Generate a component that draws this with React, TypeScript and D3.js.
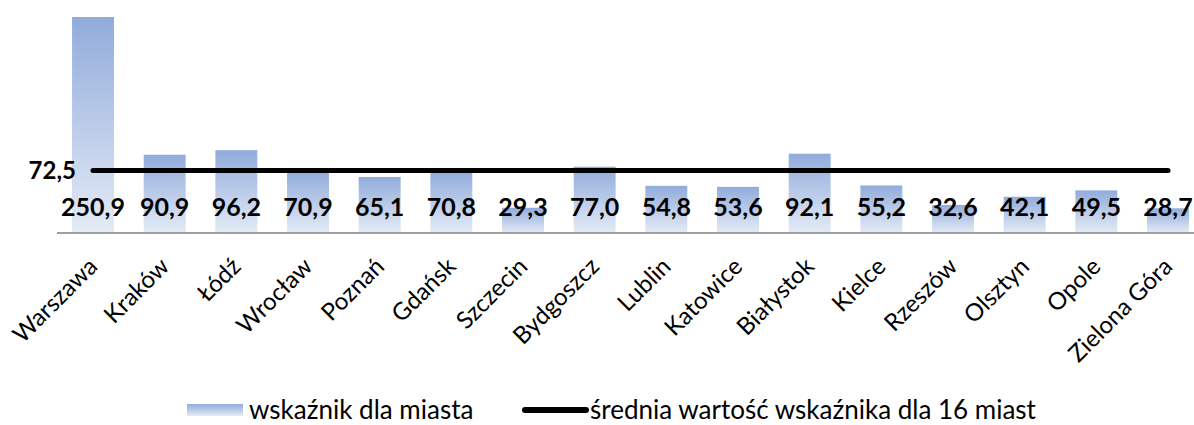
import React from "react";
import * as d3 from "d3";

const cities = ["Warszawa", "Kraków", "Łódź", "Wrocław", "Poznań", "Gdańsk", "Szczecin", "Bydgoszcz", "Lublin", "Katowice", "Białystok", "Kielce", "Rzeszów", "Olsztyn", "Opole", "Zielona Góra"];
const values = [250.9, 90.9, 96.2, 70.9, 65.1, 70.8, 29.3, 77.0, 54.8, 53.6, 92.1, 55.2, 32.6, 42.1, 49.5, 28.7];
const average = 72.5;
const legendLabels = ["wskaźnik dla miasta", "średnia wartość wskaźnika dla 16 miast"];

const W = 1194;
const H = 425;
const fmt = (v: number) => v.toFixed(1).replace(".", ",");

export default function App() {
  const x = d3.scaleBand<string>().domain(cities).range([57, 1204]).paddingInner(0.415).paddingOuter(0.21);
  const y = d3.scaleLinear().domain([0, 250.9]).range([233, 17]);
  const bw = x.bandwidth();
  const first = x(cities[0])! + bw / 2;
  const last = x(cities[cities.length - 1])! + bw / 2;
  const font = "Lato, 'Open Sans', sans-serif";

  return (
    <svg width={W} height={H} style={{ position: "absolute", left: 0, top: 0 }}>
      <defs>
        <linearGradient id="barGrad" x1="0" y1="0" x2="0" y2="1">
          <stop offset="0%" stopColor="#91abdb" />
          <stop offset="100%" stopColor="#e4ebf6" />
        </linearGradient>
      </defs>
      {cities.map((c, i) => (
        <rect key={c} x={x(c)} y={y(values[i])} width={bw} height={y(0) - y(values[i])} fill="url(#barGrad)" />
      ))}
      <line x1={57} x2={W} y1={y(0)} y2={y(0)} stroke="#a0a0a0" strokeWidth={2} />
      <line x1={first} x2={last} y1={y(average)} y2={y(average)} stroke="#000" strokeWidth={5} strokeLinecap="round" />
      <text x={76} y={y(average)} dy="0.36em" textAnchor="end" fontFamily={font} fontWeight="bold" fontSize={24}>{fmt(average)}</text>
      {cities.map((c, i) => (
        <text key={c} x={x(c)! + bw / 2} y={207} dy="0.36em" textAnchor="middle" fontFamily={font} fontWeight="bold" fontSize={25}>{fmt(values[i])}</text>
      ))}
      {cities.map((c) => {
        const cx = x(c)! + bw / 2;
        const cy = 262;
        return (
          <text key={c} transform={`translate(${cx},${cy}) rotate(-45)`} textAnchor="end" dy="0.35em" fontFamily={font} fontSize={24}>{c}</text>
        );
      })}
      <rect x={187} y={404} width={56} height={12} fill="url(#barGrad)" />
      <text x={249} y={410} dy="0.36em" fontFamily={font} fontSize={26}>{legendLabels[0]}</text>
      <line x1={525} x2={586} y1={410} y2={410} stroke="#000" strokeWidth={6} strokeLinecap="round" />
      <text x={590} y={410} dy="0.36em" fontFamily={font} fontSize={26}>{legendLabels[1]}</text>
    </svg>
  );
}
